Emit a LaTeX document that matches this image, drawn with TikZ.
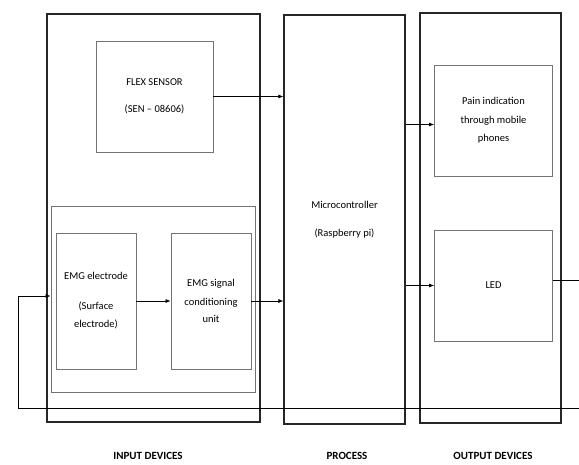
\documentclass[tikz,border=0pt]{standalone}
\usepackage{fontspec}
\setmainfont{Carlito}
\usetikzlibrary{arrows.meta}
\begin{document}
\begin{tikzpicture}[x=1pt, y=-1pt,
        outbox/.style={draw=black!85, line width=1.1pt, inner sep=0pt, align=center,
          font=\fontsize{10.5}{12.5}\selectfont},
        unitbox/.style={draw=black!55, line width=0.8pt, inner sep=0pt, align=center,
          font=\fontsize{10.5}{12.5}\selectfont},
        link/.style={-{Latex[length=5pt, width=4pt]}, line width=0.7pt},
        title/.style={font=\fontsize{11}{13}\selectfont\bfseries}
      ]
      \useasboundingbox (0,0) rectangle (579,464);
      % outer blocks
      \node[outbox, minimum width=213pt, minimum height=408pt] at (153.5, 218) (input) {};
      \node[outbox, minimum width=121pt, minimum height=409pt] at (344.5, 219.5) (process)
        {Microcontroller\\[16pt](Raspberry pi)};
      \node[outbox, minimum width=141pt, minimum height=410pt] at (490.5, 218) (output) {};
      % input side
      \node[unitbox, minimum width=117pt, minimum height=111pt] at (154.5, 96.5) (flex)
        {FLEX SENSOR\\[15pt](SEN -- 08606)};
      \node[unitbox, minimum width=204pt, minimum height=186pt] at (153, 299) (group) {};
      \node[unitbox, minimum width=80pt, minimum height=136pt] at (96, 301) (electrode)
        {EMG electrode\\[17pt](Surface\\[6pt]electrode)};
      \node[unitbox, minimum width=80pt, minimum height=136pt] at (211, 301) (signal)
        {EMG signal\\[6pt]conditioning\\[5pt]unit};
      % output side
      \node[unitbox, minimum width=118pt, minimum height=111pt] at (493.5, 120.5) (pain)
        {Pain indication\\[6pt]through mobile\\[6pt]phones};
      \node[unitbox, minimum width=118pt, minimum height=111pt] at (493.5, 285.5) (led) {LED};
      % edges
      \draw[link] (flex.east) -- (flex.east -| process.west);
      \draw[link] (electrode.east) -- (signal.west);
      \draw[link] (signal.east) -- (signal.east -| process.west);
      \draw[link] ([yshift=-4pt]pain.west -| process.east) -- ([yshift=-4pt]pain.west);
      \draw[link] (led.west -| process.east) -- (led.west);
      % feedback loop
      \coordinate (ledout) at (579, 280);
      \coordinate (fbin) at (579, 408);
      \coordinate (fbcorner) at (18, 408);
      \coordinate (fbtop) at (18, 296);
      \draw[line width=0.7pt] (led.east |- ledout) -- (ledout);
      \draw[link] (fbin) -- (fbcorner) -- (fbtop) -- (fbtop -| group.west);
      % labels
      \node[title] at (148, 456) (intitle) {INPUT DEVICES};
      \node[title] at (347, 456) (proctitle) {PROCESS};
      \node[title] at (493, 456) (outtitle) {OUTPUT DEVICES};
  \end{tikzpicture}
\end{document}
